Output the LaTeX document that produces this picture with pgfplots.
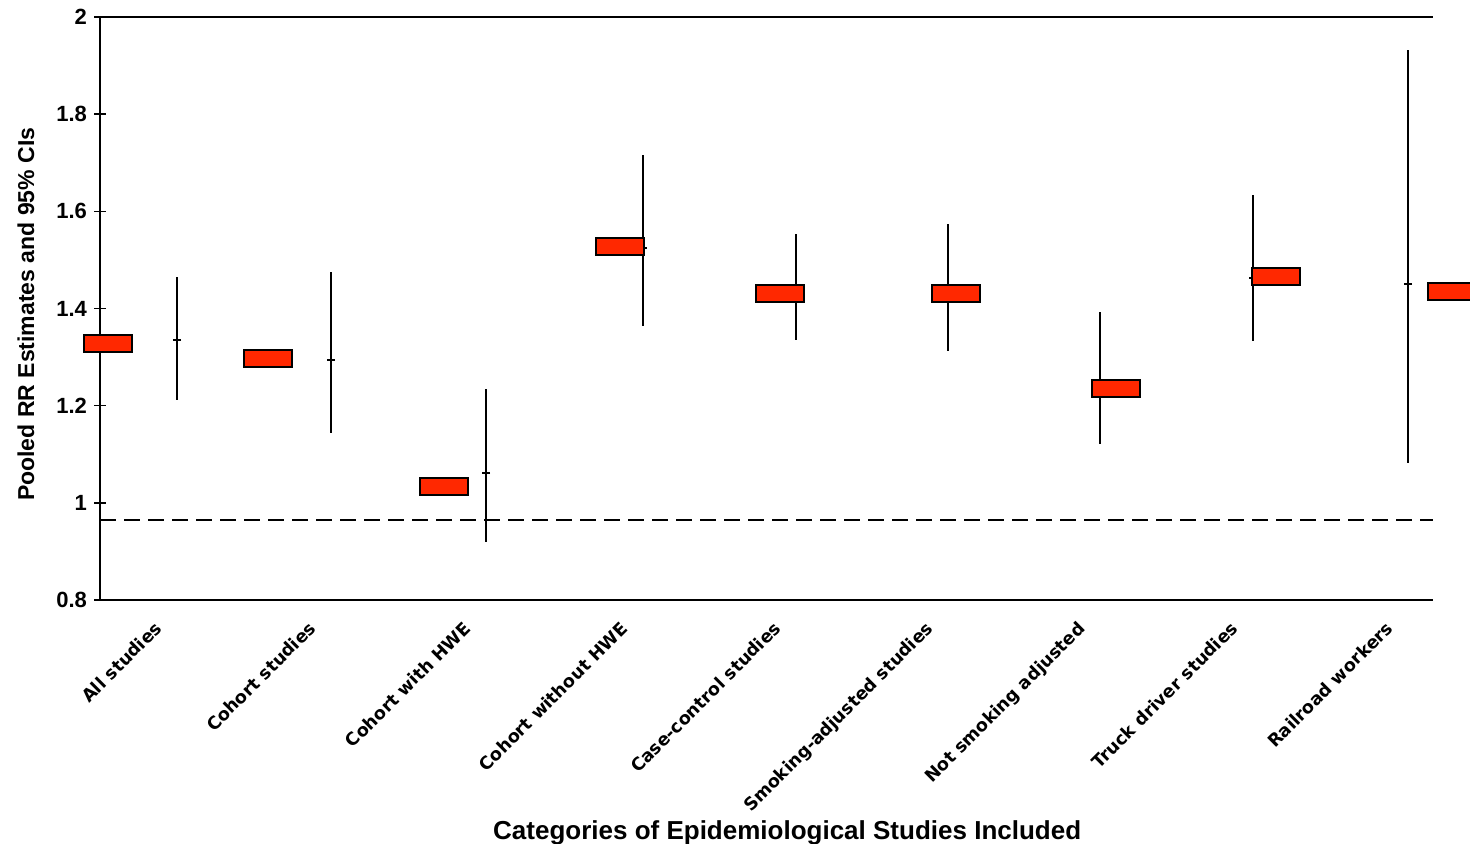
\documentclass[border=0pt]{standalone}
\usepackage{fontspec}
\setmainfont{Liberation Sans}
\newfontfamily\dejavu{DejaVu Sans}
\usepackage{pgfplots}
\pgfplotsset{compat=1.18}
\definecolor{rrred}{RGB}{255,40,0}
\pgfdeclareplotmark{rrbox}{%
  \pgfpathrectangle{\pgfpoint{-12pt}{-4.1pt}}{\pgfpoint{24pt}{8.2pt}}%
  \pgfusepathqfillstroke}
\begin{document}
\begin{tikzpicture}
\begin{axis}[
  scale only axis, width=666.5pt, height=291.5pt,
  xmin=100, xmax=1433, ymin=0.8, ymax=2,
  clip=false,
  axis x line=box, axis y line=left,
  axis line style={line width=1pt, -},
  y axis line style={line width=1.3pt},
  xtick={177,331,486,643,796,948,1100,1253,1408},
  xticklabels={All studies, Cohort studies, Cohort with HWE, Cohort without HWE, Case-control studies, Smoking-adjusted studies, Not smoking adjusted, Truck driver studies, Railroad workers},
  xtick style={draw=none},
  xticklabel style={rotate=45, anchor=north east, font=\dejavu\bfseries\fontsize{8.8}{10}\selectfont, xshift=-12pt, yshift=4.6pt},
  ytick={0.8,1,1.2,1.4,1.6,1.8,2},
  ytick align=center, major tick length=6pt,
  ytick style={line width=0.8pt, black},
  yticklabel style={font=\bfseries\fontsize{11}{13}\selectfont, /pgf/number format/assume math mode=true},
  xlabel={Categories of Epidemiological Studies Included},
  xlabel style={at={(axis description cs:0.5155,0)}, anchor=north, yshift=-107pt, font=\bfseries\fontsize{13}{15}\selectfont},
  ylabel={Pooled RR Estimates and 95\% CIs},
  ylabel style={at={(axis description cs:-0.0555,0.49)}, anchor=center, font=\bfseries\fontsize{11.5}{13}\selectfont},
]
% reference dashed line
\addplot[black, line width=0.9pt, dash pattern=on 8pt off 4pt] coordinates {(100,0.964) (1433,0.964)};
% confidence intervals
\addplot[black, only marks, mark=-, mark size=2pt, mark options={line width=1pt},
  error bars/.cd, y dir=both, y explicit, error mark=none,
  error bar style={line width=1pt, black}] coordinates {
  (177,1.336)  += (0,0.129) -= (0,0.124)
  (331,1.295)  += (0,0.181) -= (0,0.152)
  (486,1.062)  += (0,0.173) -= (0,0.142)
  (643,1.525)  += (0,0.191) -= (0,0.160)
  (796,1.430)  += (0,0.123) -= (0,0.095)
  (948,1.430)  += (0,0.144) -= (0,0.117)
  (1100,1.235) += (0,0.157) -= (0,0.114)
  (1253,1.463) += (0,0.170) -= (0,0.130)
  (1408,1.451) += (0,0.481) -= (0,0.369)
};
% pooled estimates
\addplot[only marks, mark=rrbox, mark options={fill=rrred, draw=black, line width=1pt}] coordinates {
  (108,1.328) (268,1.297) (444,1.034) (620,1.528) (780,1.431)
  (956,1.431) (1116,1.235) (1276,1.466) (1452,1.435)
};
\end{axis}
\pgfresetboundingbox
\path[use as bounding box] ([shift={(-50pt,-121.5pt)}]current axis.south west) rectangle ([shift={(685pt,300pt)}]current axis.south west);
\end{tikzpicture}
\end{document}
